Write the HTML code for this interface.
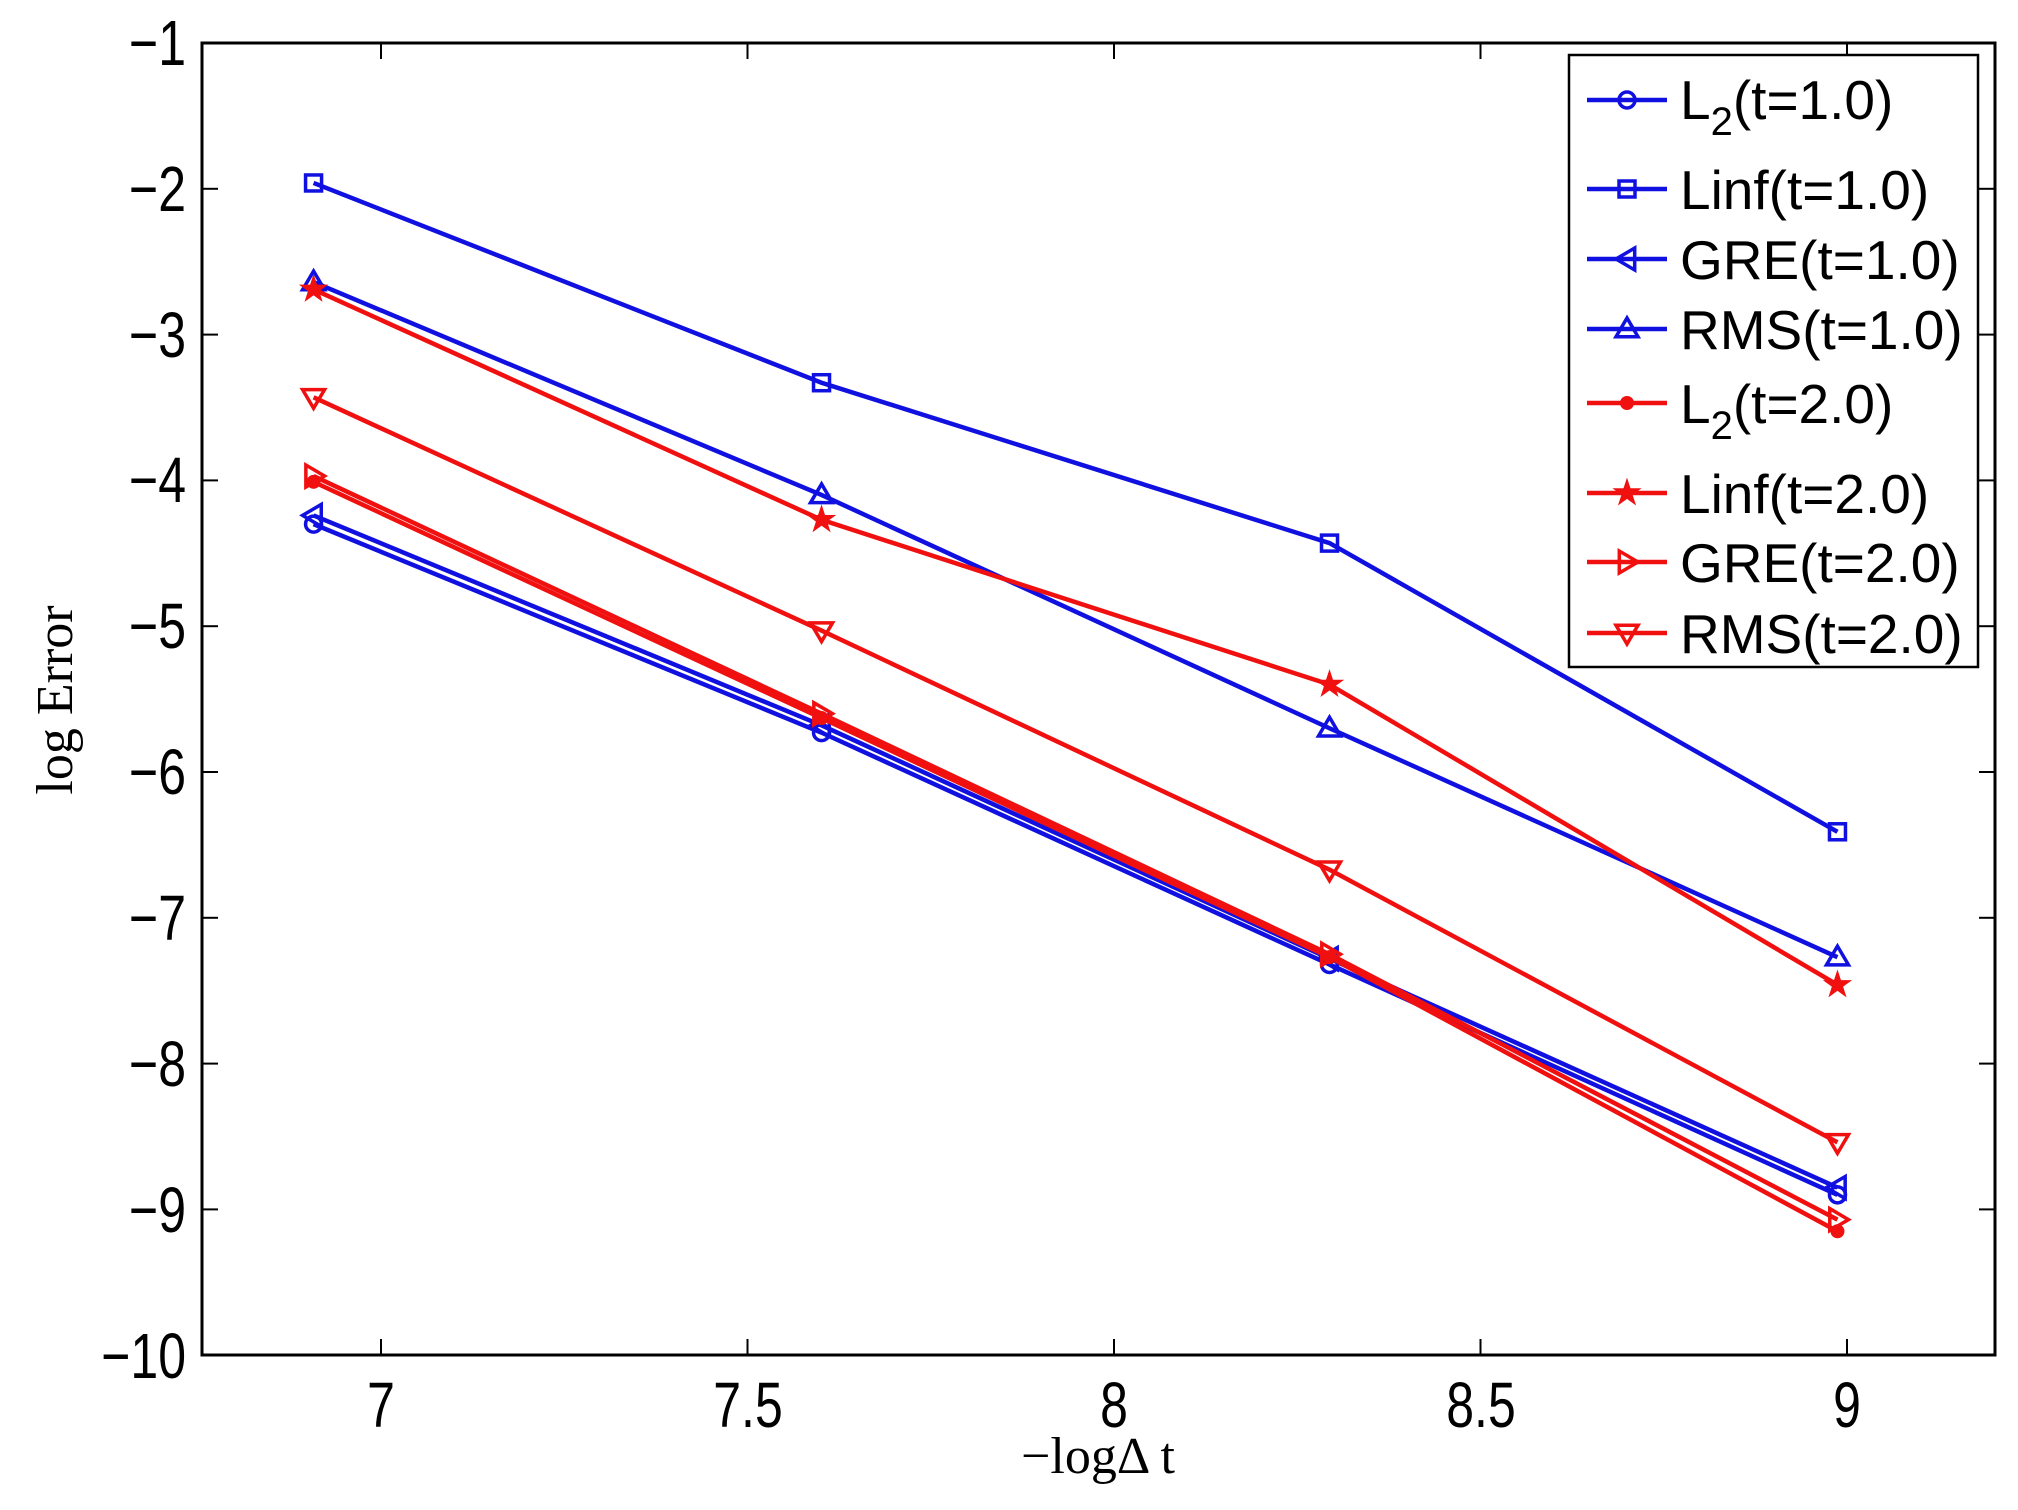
<!DOCTYPE html>
<html><head><meta charset="utf-8"><style>
html,body{margin:0;padding:0;background:#fff;}
svg{display:block;}
.tk{font-family:"Liberation Sans",sans-serif;font-size:50px;fill:#000;}
.lg{font-family:"Liberation Sans",sans-serif;font-size:55px;fill:#000;}
.ax{font-family:"Liberation Serif",serif;font-size:52px;fill:#000;}
</style></head><body>
<svg id="s" width="2018" height="1510" viewBox="0 0 2018 1510" xmlns="http://www.w3.org/2000/svg">
<rect x="0" y="0" width="2018" height="1510" fill="#fff"/>
<g id="ticks" stroke="#000" stroke-width="2"></g>
<g id="series"></g>
<rect x="202" y="43" width="1793" height="1312" fill="none" stroke="#000" stroke-width="3"/>
<g class="tk" text-anchor="end">
<text transform="translate(186 65) scale(1 1.28)">−1</text>
<text transform="translate(186 211) scale(1 1.28)">−2</text>
<text transform="translate(186 357) scale(1 1.28)">−3</text>
<text transform="translate(186 502) scale(1 1.28)">−4</text>
<text transform="translate(186 648) scale(1 1.28)">−5</text>
<text transform="translate(186 794) scale(1 1.28)">−6</text>
<text transform="translate(186 940) scale(1 1.28)">−7</text>
<text transform="translate(186 1086) scale(1 1.28)">−8</text>
<text transform="translate(186 1232) scale(1 1.28)">−9</text>
<text transform="translate(186 1378) scale(1 1.28)">−10</text>
</g>
<g class="tk" text-anchor="middle">
<text transform="translate(381 1427) scale(1 1.28)">7</text>
<text transform="translate(748 1427) scale(1 1.28)">7.5</text>
<text transform="translate(1114 1427) scale(1 1.28)">8</text>
<text transform="translate(1481 1427) scale(1 1.28)">8.5</text>
<text transform="translate(1847 1427) scale(1 1.28)">9</text>
</g>
<text class="ax" x="1098" y="1473" text-anchor="middle">−logΔ t</text>
<text class="ax" x="72" y="700" text-anchor="middle" transform="rotate(-90 72 700)">log Error</text>
<rect x="1569" y="55" width="409" height="612" fill="#fff" stroke="#000" stroke-width="2.5"/>
<g id="legend"></g>
<g class="lg">
<text x="1680" y="119">L<tspan font-size="40" dy="16">2</tspan><tspan dy="-16">(t=1.0)</tspan></text>
<text x="1680" y="209">Linf(t=1.0)</text>
<text x="1680" y="279">GRE(t=1.0)</text>
<text x="1680" y="349">RMS(t=1.0)</text>
<text x="1680" y="423">L<tspan font-size="40" dy="16">2</tspan><tspan dy="-16">(t=2.0)</tspan></text>
<text x="1680" y="513">Linf(t=2.0)</text>
<text x="1680" y="582">GRE(t=2.0)</text>
<text x="1680" y="653">RMS(t=2.0)</text>
</g>
</svg>
<script>
var NS="http://www.w3.org/2000/svg";
function X(v){return 381+(v-7)*733;}
function Y(v){return 43+(-1-v)*145.8;}
function el(p,t,a){var e=document.createElementNS(NS,t);for(var k in a)e.setAttribute(k,a[k]);p.appendChild(e);return e;}
var tg=document.getElementById("ticks");
for(var i=0;i<=9;i++){var y=Y(-1-i);el(tg,"line",{x1:202,y1:y,x2:218,y2:y});el(tg,"line",{x1:1979,y1:y,x2:1995,y2:y});}
[7,7.5,8,8.5,9].forEach(function(v){var x=X(v);el(tg,"line",{x1:x,y1:1355,x2:x,y2:1339});el(tg,"line",{x1:x,y1:43,x2:x,y2:59});});
var xs=[6.908,7.601,8.294,8.987];
var B="#1010e0",R="#f01010";
var S=[
 {c:B,m:"o",d:[-4.30,-5.73,-7.32,-8.90]},
 {c:B,m:"s",d:[-1.96,-3.33,-4.43,-6.41]},
 {c:B,m:"<",d:[-4.24,-5.68,-7.28,-8.85]},
 {c:B,m:"^",d:[-2.64,-4.10,-5.70,-7.27]},
 {c:R,m:".",d:[-4.01,-5.63,-7.27,-9.15]},
 {c:R,m:"*",d:[-2.69,-4.27,-5.40,-7.46]},
 {c:R,m:">",d:[-3.97,-5.60,-7.25,-9.07]},
 {c:R,m:"v",d:[-3.43,-5.03,-6.67,-8.54]}
];
function marker(g,m,x,y,c){
 var r=8,a={fill:"none",stroke:c,"stroke-width":3.5};
 if(m=="o"){a.cx=x;a.cy=y;a.r=r;el(g,"circle",a);}
 else if(m=="s"){a.x=x-r;a.y=y-r;a.width=2*r;a.height=2*r;el(g,"rect",a);}
 else if(m=="."){el(g,"circle",{cx:x,cy:y,r:7,fill:c});}
 else if(m=="*"){var p=[];for(var k=0;k<10;k++){var rr=k%2?5:13,an=-Math.PI/2+k*Math.PI/5;p.push((x+rr*Math.cos(an))+","+(y+rr*Math.sin(an)));}el(g,"polygon",{points:p.join(" "),fill:c,stroke:c,"stroke-width":1.5});}
 else{var q=r+3,pts;
  if(m=="^")pts=[[x,y-q],[x-q,y+q*0.7],[x+q,y+q*0.7]];
  if(m=="v")pts=[[x,y+q],[x-q,y-q*0.7],[x+q,y-q*0.7]];
  if(m=="<")pts=[[x-q,y],[x+q*0.7,y-q],[x+q*0.7,y+q]];
  if(m==">")pts=[[x+q,y],[x-q*0.7,y-q],[x-q*0.7,y+q]];
  a.points=pts.map(function(p){return p.join(",")}).join(" ");el(g,"polygon",a);}
}
var sg=document.getElementById("series"),lg=document.getElementById("legend");
var ly=[100,189,259,329,403,493,562,633];
S.forEach(function(s,i){
 var pts=xs.map(function(x,j){return X(x)+","+Y(s.d[j]);}).join(" ");
 el(sg,"polyline",{points:pts,fill:"none",stroke:s.c,"stroke-width":4.5});
 xs.forEach(function(x,j){marker(sg,s.m,X(x),Y(s.d[j]),s.c);});
 el(lg,"line",{x1:1587,y1:ly[i],x2:1667,y2:ly[i],stroke:s.c,"stroke-width":4.5});
 marker(lg,s.m,1627,ly[i],s.c);
});
</script>
</body></html>
